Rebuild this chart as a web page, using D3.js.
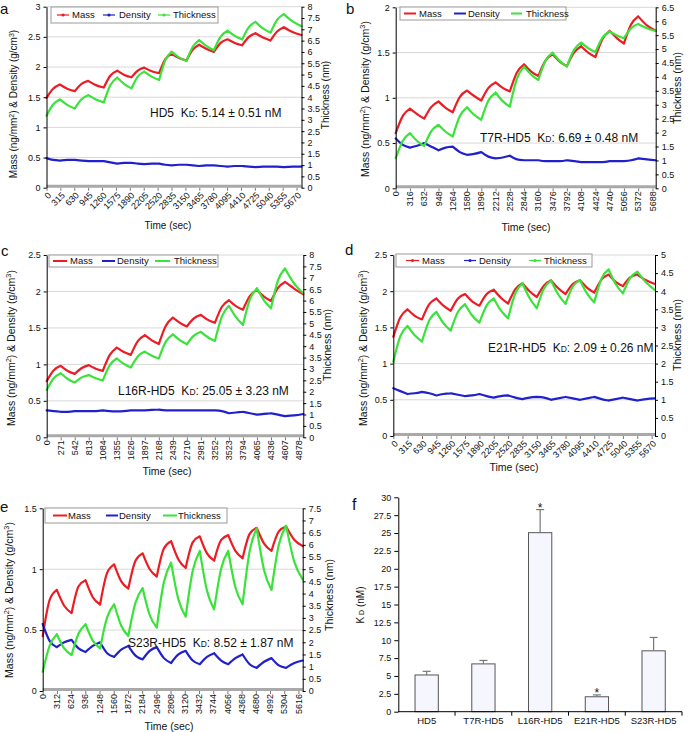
<!DOCTYPE html>
<html><head><meta charset="utf-8">
<script src="https://cdn.jsdelivr.net/npm/d3@7/dist/d3.min.js"></script>
<style>
body{margin:0;background:#fff}
svg{display:block}
text{font-family:"Liberation Sans",Arial,sans-serif;fill:#111}
</style>
</head><body>
<svg id="chart" width="688" height="732"></svg>
<script>
// ---------------- DATA ----------------
const legendLabels = ["Mass", "Density", "Thickness"];

// Panel a : HD5
const aTicks = [0,315,630,945,1260,1575,1890,2205,2520,2835,3150,3465,3780,4095,4410,4725,5040,5355,5670];
const aTime = [0,150,302,470,643,795,945,1120,1300,1450,1602,1765,1927,2070,2215,2385,2555,2695,2834,3005,3175,3320,3462,3630,3795,3950,4104,4270,4437,4590,4739,4910,5080,5230,5382,5580,5783];
const aMass = [1.49,1.64,1.71,1.64,1.60,1.72,1.77,1.70,1.66,1.86,1.94,1.87,1.83,1.94,1.99,1.93,1.90,2.13,2.22,2.15,2.11,2.29,2.37,2.30,2.25,2.40,2.46,2.40,2.36,2.50,2.56,2.49,2.44,2.59,2.66,2.58,2.53];
const aDensity = [0.49,0.46,0.45,0.46,0.46,0.45,0.44,0.44,0.44,0.42,0.40,0.41,0.41,0.40,0.39,0.40,0.40,0.38,0.37,0.38,0.38,0.37,0.36,0.37,0.37,0.36,0.35,0.36,0.36,0.35,0.34,0.35,0.35,0.35,0.34,0.35,0.35];
const aThickness = [3.18,3.68,3.90,3.66,3.50,3.91,4.09,3.90,3.77,4.54,4.87,4.58,4.39,4.91,5.13,4.91,4.76,5.64,6.01,5.76,5.60,6.24,6.52,6.26,6.08,6.68,6.94,6.71,6.55,7.10,7.33,7.04,6.85,7.42,7.67,7.35,7.14];

// Panel b : T7R-HD5
const bTicks = [0,316,632,948,1264,1580,1896,2212,2528,2844,3160,3476,3792,4108,4424,4740,5056,5372,5688];
const bTime = [0,158,316,474,632,790,948,1106,1264,1422,1580,1738,1896,2054,2212,2370,2528,2686,2844,3002,3160,3318,3476,3634,3792,3950,4108,4266,4424,4582,4740,4898,5056,5214,5372,5566,5760];
const bMass = [0.61,0.80,0.88,0.82,0.77,0.90,0.96,0.89,0.84,1.01,1.08,1.02,0.97,1.11,1.17,1.11,1.07,1.28,1.37,1.29,1.24,1.41,1.48,1.40,1.35,1.50,1.57,1.50,1.45,1.65,1.74,1.66,1.60,1.81,1.90,1.80,1.74];
const bDensity = [0.55,0.48,0.45,0.47,0.50,0.46,0.42,0.45,0.46,0.40,0.37,0.38,0.40,0.35,0.33,0.34,0.36,0.32,0.31,0.31,0.31,0.30,0.30,0.30,0.31,0.30,0.29,0.29,0.29,0.29,0.30,0.30,0.30,0.31,0.33,0.32,0.31];
const bThickness = [1.08,1.71,1.98,1.70,1.52,2.05,2.28,2.03,1.86,2.60,2.91,2.64,2.46,3.15,3.44,3.13,2.93,3.94,4.37,4.08,3.89,4.58,4.87,4.57,4.37,4.97,5.23,5.03,4.89,5.41,5.63,5.49,5.39,5.75,5.90,5.75,5.65];

// Panel c : L16R-HD5
const cTicks = [0,271,542,813,1084,1355,1626,1897,2168,2439,2710,2981,3252,3523,3794,4065,4336,4607,4878];
const cTime = [0,136,271,407,542,678,813,949,1084,1220,1355,1491,1626,1762,1897,2033,2168,2304,2439,2575,2710,2846,2981,3117,3252,3388,3523,3659,3794,3930,4065,4201,4336,4472,4607,4784,4961];
const cMass = [0.77,0.92,0.98,0.91,0.87,0.95,0.99,0.94,0.91,1.13,1.23,1.17,1.13,1.32,1.40,1.33,1.28,1.53,1.64,1.57,1.52,1.63,1.68,1.61,1.57,1.79,1.88,1.80,1.75,1.94,2.02,1.93,1.87,2.05,2.13,2.04,1.96];
const cDensity = [0.37,0.36,0.35,0.35,0.36,0.36,0.36,0.36,0.37,0.36,0.355,0.36,0.37,0.37,0.37,0.375,0.38,0.37,0.37,0.37,0.37,0.37,0.37,0.37,0.37,0.36,0.33,0.34,0.35,0.33,0.31,0.32,0.33,0.31,0.29,0.30,0.32];
const cThickness = [2.08,2.59,2.81,2.56,2.40,2.63,2.73,2.59,2.49,3.17,3.46,3.22,3.06,3.55,3.76,3.58,3.46,4.20,4.52,4.26,4.08,4.46,4.63,4.39,4.23,5.31,5.77,5.27,4.93,6.06,6.54,6.01,5.66,6.89,7.41,6.75,6.32];

// Panel d : E21R-HD5
const dTicks = [0,315,630,945,1260,1575,1890,2205,2520,2835,3150,3465,3780,4095,4410,4725,5040,5355,5670];
const dTime = [0,155,310,470,630,790,945,1100,1260,1420,1575,1730,1890,2050,2205,2360,2520,2680,2835,2990,3150,3310,3465,3620,3780,3940,4095,4250,4410,4570,4725,4880,5040,5200,5355,5550,5744];
const dMass = [1.37,1.64,1.75,1.66,1.61,1.82,1.90,1.80,1.73,1.90,1.96,1.86,1.80,1.96,2.02,1.91,1.83,2.03,2.11,2.00,1.92,2.08,2.15,2.04,1.96,2.10,2.15,2.05,1.98,2.16,2.23,2.13,2.07,2.19,2.23,2.15,2.10];
const dDensity = [0.66,0.62,0.58,0.59,0.61,0.59,0.56,0.58,0.59,0.57,0.55,0.56,0.58,0.55,0.53,0.55,0.56,0.53,0.51,0.53,0.54,0.53,0.50,0.52,0.54,0.52,0.50,0.52,0.54,0.51,0.49,0.51,0.53,0.51,0.49,0.51,0.52];
const dThickness = [2.05,2.76,3.04,2.78,2.61,3.20,3.43,3.12,2.91,3.43,3.64,3.33,3.13,3.61,3.80,3.47,3.25,3.95,4.22,3.81,3.53,4.08,4.29,3.91,3.65,4.13,4.31,3.94,3.69,4.35,4.60,4.20,3.94,4.37,4.54,4.24,4.03];

// Panel e : S23R-HD5
const eTicks = [0,312,624,936,1248,1560,1872,2184,2496,2808,3120,3432,3744,4056,4368,4680,4992,5304,5616];
const eTime = [0,155,310,472,635,788,940,1100,1260,1415,1570,1725,1880,2038,2195,2350,2505,2662,2820,2980,3140,3295,3450,3608,3765,3920,4075,4232,4390,4545,4700,4862,5025,5185,5345,5528,5710];
const eMass = [0.45,0.75,0.83,0.70,0.64,0.86,0.91,0.77,0.71,0.97,1.04,0.90,0.84,1.07,1.13,1.00,0.94,1.17,1.23,1.08,1.01,1.22,1.27,1.13,1.07,1.24,1.28,1.15,1.09,1.29,1.34,1.21,1.15,1.31,1.35,1.24,1.19];
const eDensity = [0.55,0.41,0.36,0.40,0.42,0.35,0.32,0.37,0.40,0.31,0.28,0.34,0.37,0.29,0.26,0.33,0.36,0.27,0.23,0.30,0.33,0.25,0.22,0.28,0.31,0.25,0.22,0.27,0.30,0.22,0.19,0.24,0.27,0.21,0.19,0.23,0.25];
const eThickness = [0.79,1.87,2.33,1.75,1.48,2.36,2.74,2.07,1.75,3.02,3.56,2.68,2.26,3.63,4.22,3.12,2.60,4.47,5.27,3.76,3.05,4.94,5.75,4.12,3.35,5.03,5.75,4.26,3.56,5.74,6.68,4.96,4.15,6.00,6.79,5.29,4.58];

// Panel f : KD summary
const fCategories = ["HD5","T7R-HD5","L16R-HD5","E21R-HD5","S23R-HD5"];
const fKd = [5.14, 6.69, 25.05, 2.09, 8.52];
const fErr = [0.51, 0.48, 3.23, 0.26, 1.87];
const fSignificant = [false, false, true, true, false];
const fYTicks = [0,2.5,5,7.5,10,12.5,15,17.5,20,22.5,25,27.5,30];

// ---------------- DRAWING ----------------
const svg = d3.select("#chart");
const COL = {mass:"#ec1c24", dens:"#2020cc", thick:"#3ae23a"};
const FONT = '"Liberation Sans",Arial,sans-serif';

function styleAxis(sel, fs) {
  sel.attr("font-family", FONT).attr("font-size", fs);
  sel.select(".domain").attr("stroke", "#000").attr("stroke-width", 1);
  sel.selectAll(".tick line").attr("stroke", "#000");
  sel.selectAll(".tick text").attr("fill", "#111");
}

function drawPanel(p) {
  const g = svg.append("g");
  const x = d3.scaleLinear().domain([0, p.tEnd]).range([p.L, p.R]);
  const yL = d3.scaleLinear().domain([0, p.maxL]).range([p.B, p.T]);
  const yR = d3.scaleLinear().domain([0, p.maxR]).range([p.B, p.T]);
  const lt = d3.range(0, p.maxL + 0.01, 0.5);
  const rt = d3.range(0, p.maxR + 0.01, 0.5);

  // gridlines
  g.append("g").selectAll("line").data(lt.slice(1)).join("line")
    .attr("x1", p.L).attr("x2", p.R)
    .attr("y1", d => yL(d)).attr("y2", d => yL(d))
    .attr("stroke", "#d8d8d8").attr("stroke-width", 1);

  // x axis ticks + gray baseline band
  const xa = g.append("g").attr("transform", `translate(0,${p.B})`)
    .call(d3.axisBottom(x).tickValues(p.ticks).tickSize(3).tickSizeOuter(0).tickFormat(""));
  xa.select(".domain").remove();
  xa.selectAll(".tick line").attr("stroke", "#777");
  g.append("line").attr("x1", p.L).attr("x2", p.R)
    .attr("y1", p.B - 1.5).attr("y2", p.B - 1.5)
    .attr("stroke", "#a9a9a9").attr("stroke-width", 3);

  // x tick labels
  g.append("g").selectAll("text").data(p.ticks).join("text")
    .attr("transform", d => p.rot === 45
      ? `translate(${x(d) + 3},${p.B + 6}) rotate(-45)`
      : `translate(${x(d)},${p.B + 3}) rotate(-90)`)
    .attr("text-anchor", "end").attr("dy", "0.35em")
    .attr("font-size", 9).text(d => d);

  // series: each association / dissociation phase is its own monotone piece,
  // so the turning points stay sharp as in the recorded traces
  const seg = (vals, sc) => {
    const pts = vals.map((v, i) => [x(p.time[i]), sc(v)]);
    const ln = d3.line().curve(d3.curveMonotoneX);
    let d = "";
    for (let i = 0; i + 2 < pts.length; i += 2) d += ln(pts.slice(i, i + 3));
    return d;
  };
  [[p.mass, yL, COL.mass], [p.dens, yL, COL.dens], [p.thick, yR, COL.thick]].forEach(s => {
    g.append("path").attr("d", seg(s[0], s[1])).attr("fill", "none")
      .attr("stroke", s[2]).attr("stroke-width", 2.2)
      .attr("stroke-linejoin", "round").attr("stroke-linecap", "round");
  });

  // axes
  const la = g.append("g").attr("transform", `translate(${p.L},0)`)
    .call(d3.axisLeft(yL).tickValues(lt).tickSize(3).tickSizeOuter(0).tickPadding(3).tickFormat(d3.format("")));
  styleAxis(la, 9);
  const ra = g.append("g").attr("transform", `translate(${p.R},0)`)
    .call(d3.axisRight(yR).tickValues(rt).tickSize(3).tickSizeOuter(0).tickPadding(3).tickFormat(d3.format("")));
  styleAxis(ra, 9);

  // axis titles
  const lt1 = g.append("text").attr("text-anchor", "middle")
    .attr("transform", `translate(${p.lTitle[0]},${p.lTitle[1]}) rotate(-90)`)
    .attr("font-size", p.titleFs);
  lt1.append("tspan").text("Mass (ng/mm");
  lt1.append("tspan").attr("baseline-shift", "super").attr("font-size", p.titleFs * 0.7).text("2");
  lt1.append("tspan").text(") & Density (g/cm");
  lt1.append("tspan").attr("baseline-shift", "super").attr("font-size", p.titleFs * 0.7).text("3");
  lt1.append("tspan").text(")");
  g.append("text").attr("text-anchor", "middle")
    .attr("transform", `translate(${p.rTitle[0]},${p.rTitle[1]}) rotate(-90)`)
    .attr("font-size", p.titleFs).text("Thickness (nm)");
  g.append("text").attr("text-anchor", "middle")
    .attr("x", p.xTitle[0]).attr("y", p.xTitle[1])
    .attr("font-size", p.titleFs).text("Time (sec)");

  // legend
  const lg = g.append("g").attr("transform", `translate(${p.leg.x},${p.leg.y})`);
  lg.append("rect").attr("width", p.leg.w).attr("height", p.leg.h)
    .attr("fill", "#fff").attr("stroke", "#9a9a9a").attr("stroke-width", 1);
  const cols = [COL.mass, COL.dens, COL.thick];
  p.leg.items.forEach((it, i) => {
    lg.append("line").attr("x1", it[0]).attr("x2", it[1])
      .attr("y1", p.leg.h / 2).attr("y2", p.leg.h / 2)
      .attr("stroke", cols[i]).attr("stroke-width", p.leg.marker ? 1.2 : 2);
    if (p.leg.marker) {
      lg.append("circle").attr("cx", (it[0] + it[1]) / 2).attr("cy", p.leg.h / 2)
        .attr("r", 1.6).attr("fill", cols[i]);
    }
    lg.append("text").attr("x", it[2]).attr("y", p.leg.h / 2 + 3.4)
      .attr("font-size", 9.5).text(legendLabels[i]);
  });

  // annotation
  const an = g.append("text").attr("x", p.note.x).attr("y", p.note.y)
    .attr("font-size", 12).style("white-space", "pre");
  an.append("tspan").text(p.note.name + "  K");
  an.append("tspan").attr("font-size", 8.5).text("D");
  an.append("tspan").text(`: ${p.note.kd} ± ${p.note.err} nM`);

  // panel letter
  g.append("text").attr("x", p.letter[0]).attr("y", p.letter[1])
    .attr("font-size", 15).text(p.letter[2]);
}

drawPanel({L:46.5, R:301.5, T:6.7, B:187.7, maxL:3, maxR:8, tEnd:5783,
  ticks:aTicks, time:aTime, mass:aMass, dens:aDensity, thick:aThickness, rot:45,
  titleFs:10, lTitle:[17,104], rTitle:[329,95], xTitle:[168,229],
  leg:{x:51, y:7, w:167, h:16, marker:true, items:[[6,18,21],[52,64,68],[107,119,122]]},
  note:{x:150, y:117, name:"HD5", kd:"5.14", err:"0.51"}, letter:[0,14,"a"]});

drawPanel({L:395.7, R:655.7, T:7.3, B:188.3, maxL:2, maxR:6.5, tEnd:5760,
  ticks:bTicks, time:bTime, mass:bMass, dens:bDensity, thick:bThickness, rot:90,
  titleFs:10.5, lTitle:[369,99], rTitle:[681,88], xTitle:[526,231],
  leg:{x:400, y:7, w:166, h:13, marker:false, items:[[4,16,19],[54,66,68],[111,122,126]]},
  note:{x:480, y:142, name:"T7R-HD5", kd:"6.69", err:"0.48"}, letter:[346,14,"b"]});

drawPanel({L:46.7, R:303.3, T:255, B:437.3, maxL:2.5, maxR:8, tEnd:4961,
  ticks:cTicks, time:cTime, mass:cMass, dens:cDensity, thick:cThickness, rot:90,
  titleFs:10.5, lTitle:[15,348], rTitle:[331,345], xTitle:[167,475],
  leg:{x:49, y:255, w:169, h:12, marker:false, items:[[4,18,21],[53,66,68],[106,121,125]]},
  note:{x:118, y:395, name:"L16R-HD5", kd:"25.05", err:"3.23"}, letter:[1,256,"c"]});

drawPanel({L:393.3, R:655, T:255, B:436, maxL:2.5, maxR:5, tEnd:5744,
  ticks:dTicks, time:dTime, mass:dMass, dens:dDensity, thick:dThickness, rot:45,
  titleFs:10.5, lTitle:[367,348], rTitle:[681,335], xTitle:[514,471],
  leg:{x:396, y:254, w:196, h:13, marker:true, items:[[10,23,26],[68,80,83],[133,145,148]]},
  note:{x:488, y:352, name:"E21R-HD5", kd:"2.09", err:"0.26"}, letter:[345,255,"d"]});

drawPanel({L:42.7, R:302.7, T:508.3, B:691, maxL:1.5, maxR:7.5, tEnd:5710,
  ticks:eTicks, time:eTime, mass:eMass, dens:eDensity, thick:eThickness, rot:90,
  titleFs:10.5, lTitle:[13,600], rTitle:[333,595], xTitle:[169,730],
  leg:{x:45, y:508, w:182, h:15, marker:false, items:[[8,22,23],[61,73,74],[118,132,133]]},
  note:{x:128, y:647, name:"S23R-HD5", kd:"8.52", err:"1.87"}, letter:[0,512,"e"]});

// ---------- panel f ----------
(function () {
  const L = 398.3, R = 682, T = 497.3, B = 711.7;
  const g = svg.append("g");
  const xb = d3.scaleBand().domain(fCategories).range([L, R]).paddingInner(0.59).paddingOuter(0.295);
  const y = d3.scaleLinear().domain([0, 30]).range([B, T]);
  const step = xb.step();

  g.selectAll("rect.bar").data(fCategories).join("rect").attr("class", "bar")
    .attr("x", d => xb(d)).attr("width", xb.bandwidth())
    .attr("y", (d, i) => y(fKd[i])).attr("height", (d, i) => B - y(fKd[i]))
    .attr("fill", "#f6f6fe").attr("stroke", "#555").attr("stroke-width", 1);

  // error bars (upper only)
  g.selectAll("line.err").data(fCategories).join("line").attr("class", "err")
    .attr("x1", d => xb(d) + xb.bandwidth() / 2).attr("x2", d => xb(d) + xb.bandwidth() / 2)
    .attr("y1", (d, i) => y(fKd[i])).attr("y2", (d, i) => y(fKd[i] + fErr[i]))
    .attr("stroke", "#777").attr("stroke-width", 1.2);
  g.selectAll("line.cap").data(fCategories).join("line").attr("class", "cap")
    .attr("x1", d => xb(d) + xb.bandwidth() / 2 - 4).attr("x2", d => xb(d) + xb.bandwidth() / 2 + 4)
    .attr("y1", (d, i) => y(fKd[i] + fErr[i])).attr("y2", (d, i) => y(fKd[i] + fErr[i]))
    .attr("stroke", "#777").attr("stroke-width", 1.2);
  g.selectAll("text.star").data(fCategories.filter((d, i) => fSignificant[i])).join("text")
    .attr("class", "star").attr("text-anchor", "middle")
    .attr("x", d => xb(d) + xb.bandwidth() / 2)
    .attr("y", d => { const i = fCategories.indexOf(d); return y(fKd[i] + fErr[i]) + 2; })
    .attr("font-size", 12).attr("fill", "#444").text("*");

  // y axis
  const ya = g.append("g").attr("transform", `translate(${L},0)`)
    .call(d3.axisLeft(y).tickValues(fYTicks).tickSize(4).tickSizeOuter(0).tickPadding(3).tickFormat(d3.format("")));
  styleAxis(ya, 9);
  // x axis baseline and separators
  g.append("line").attr("x1", L).attr("x2", R).attr("y1", B).attr("y2", B).attr("stroke", "#000");
  g.selectAll("line.sep").data(fCategories).join("line").attr("class", "sep")
    .attr("x1", d => xb(d) + xb.bandwidth() + (step - xb.bandwidth()) / 2)
    .attr("x2", d => xb(d) + xb.bandwidth() + (step - xb.bandwidth()) / 2)
    .attr("y1", B).attr("y2", B + 4).attr("stroke", "#000");
  g.selectAll("text.cat").data(fCategories).join("text").attr("class", "cat")
    .attr("text-anchor", "middle").attr("x", d => xb(d) + xb.bandwidth() / 2)
    .attr("y", 724).attr("font-size", 9.5).text(d => d);

  const yt = g.append("text").attr("text-anchor", "middle")
    .attr("transform", `translate(364,605) rotate(-90)`).attr("font-size", 10);
  yt.append("tspan").text("K");
  yt.append("tspan").attr("font-size", 7).text(" D");
  yt.append("tspan").text(" (nM)");

  g.append("text").attr("x", 352).attr("y", 510).attr("font-size", 16).text("f");
})();
</script>
</body></html>
